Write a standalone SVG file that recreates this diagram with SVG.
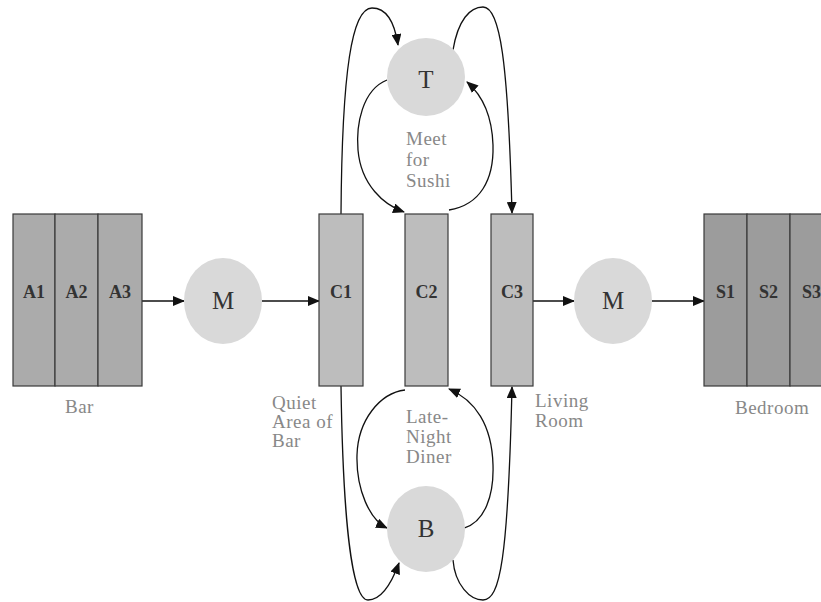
<svg xmlns="http://www.w3.org/2000/svg" width="821" height="602" viewBox="0 0 821 602">
  <style>
    .lane { stroke: #3a3a3a; stroke-width: 1.2; }
    .bar { fill: #ababab; }
    .corr { fill: #bdbdbd; }
    .bed { fill: #9c9c9c; }
    .hub { fill: #d9d9d9; }
    .id { font-family: "Liberation Serif", "Times New Roman", serif; font-weight: bold; font-size: 18px; fill: #333; text-anchor: middle; }
    .hubtext { font-family: "Liberation Serif", "Times New Roman", serif; font-size: 25px; fill: #333; text-anchor: middle; }
    .cap { font-family: "Liberation Serif", "Times New Roman", serif; font-size: 19px; letter-spacing: 0.5px; fill: #888; }
    .edge { fill: none; stroke: #111; stroke-width: 1.3; marker-end: url(#arrow); }
  </style>
  <defs>
    <marker id="arrow" markerUnits="userSpaceOnUse" markerWidth="12" markerHeight="10" refX="11" refY="5" orient="auto">
      <path d="M0,0 L12,5 L0,10 z" fill="#111"/>
    </marker>
  </defs>
  <rect width="821" height="602" fill="#fff"/>

  <!-- connectors -->
  <g id="connectors">
    <path class="edge" d="M142 301 H184"/>
    <path class="edge" d="M262 301 H319"/>
    <path class="edge" d="M533 301 H574"/>
    <path class="edge" d="M652 301 H704"/>
    <!-- upper loops through T -->
    <path class="edge" d="M341 214 C342 70, 352 8, 372 8 C388 8, 395 25, 398 45"/>
    <path class="edge" d="M387 80 C362 90, 356 125, 358 150 C361 185, 384 205, 404 212"/>
    <path class="edge" d="M449 210 C480 205, 494 180, 493 145 C492 115, 482 95, 467 82"/>
    <path class="edge" d="M453 50 C458 20, 470 7, 483 7 C500 7, 508 60, 512 213"/>
    <!-- lower loops through B -->
    <path class="edge" d="M341 386 C343 520, 352 600, 368 600 C382 600, 392 582, 399 563"/>
    <path class="edge" d="M405 390 C380 393, 358 420, 357 455 C356 490, 370 520, 387 528"/>
    <path class="edge" d="M464 528 C485 522, 494 495, 493 465 C492 425, 475 400, 449 389"/>
    <path class="edge" d="M453 560 C455 585, 470 600, 483 600 C500 600, 508 560, 512 387"/>
  </g>

  <g id="bar">
    <rect class="bar lane" x="13" y="214" width="42" height="172"/>
    <rect class="bar lane" x="55" y="214" width="43" height="172"/>
    <rect class="bar lane" x="98" y="214" width="44" height="172"/>
    <text class="id" x="34" y="298">A1</text>
    <text class="id" x="76.5" y="298">A2</text>
    <text class="id" x="120" y="298">A3</text>
    <text class="cap" x="65" y="413">Bar</text>
  </g>

  <g id="m-left">
    <ellipse class="hub" cx="223" cy="301" rx="39" ry="43"/>
    <text class="hubtext" x="223" y="309">M</text>
  </g>

  <g id="c1">
    <rect class="corr lane" x="319" y="214" width="44" height="172"/>
    <text class="id" x="341" y="298">C1</text>
    <text class="cap" x="272" y="409">Quiet</text>
    <text class="cap" x="272" y="428">Area of</text>
    <text class="cap" x="272" y="447">Bar</text>
  </g>

  <g id="c2">
    <rect class="corr lane" x="405" y="214" width="43" height="172"/>
    <text class="id" x="426.5" y="298">C2</text>
  </g>

  <g id="c3">
    <rect class="corr lane" x="491" y="214" width="42" height="172"/>
    <text class="id" x="512" y="298">C3</text>
    <text class="cap" x="535" y="407">Living</text>
    <text class="cap" x="535" y="427">Room</text>
  </g>

  <g id="t">
    <ellipse class="hub" cx="426" cy="77" rx="39" ry="39"/>
    <text class="hubtext" x="426" y="88">T</text>
    <text class="cap" x="406" y="145">Meet</text>
    <text class="cap" x="406" y="166">for</text>
    <text class="cap" x="406" y="187">Sushi</text>
  </g>

  <g id="b">
    <ellipse class="hub" cx="426" cy="529" rx="39" ry="43"/>
    <text class="hubtext" x="426" y="537">B</text>
    <text class="cap" x="406" y="423">Late-</text>
    <text class="cap" x="406" y="443">Night</text>
    <text class="cap" x="406" y="463">Diner</text>
  </g>

  <g id="m-right">
    <ellipse class="hub" cx="613" cy="301" rx="39" ry="43"/>
    <text class="hubtext" x="613" y="309">M</text>
  </g>

  <g id="bedroom">
    <rect class="bed lane" x="704" y="214" width="43" height="172"/>
    <rect class="bed lane" x="747" y="214" width="43" height="172"/>
    <rect class="bed lane" x="790" y="214" width="43" height="172"/>
    <text class="id" x="725.5" y="298">S1</text>
    <text class="id" x="768.5" y="298">S2</text>
    <text class="id" x="811.5" y="298">S3</text>
    <text class="cap" x="735" y="414">Bedroom</text>
  </g>
</svg>
